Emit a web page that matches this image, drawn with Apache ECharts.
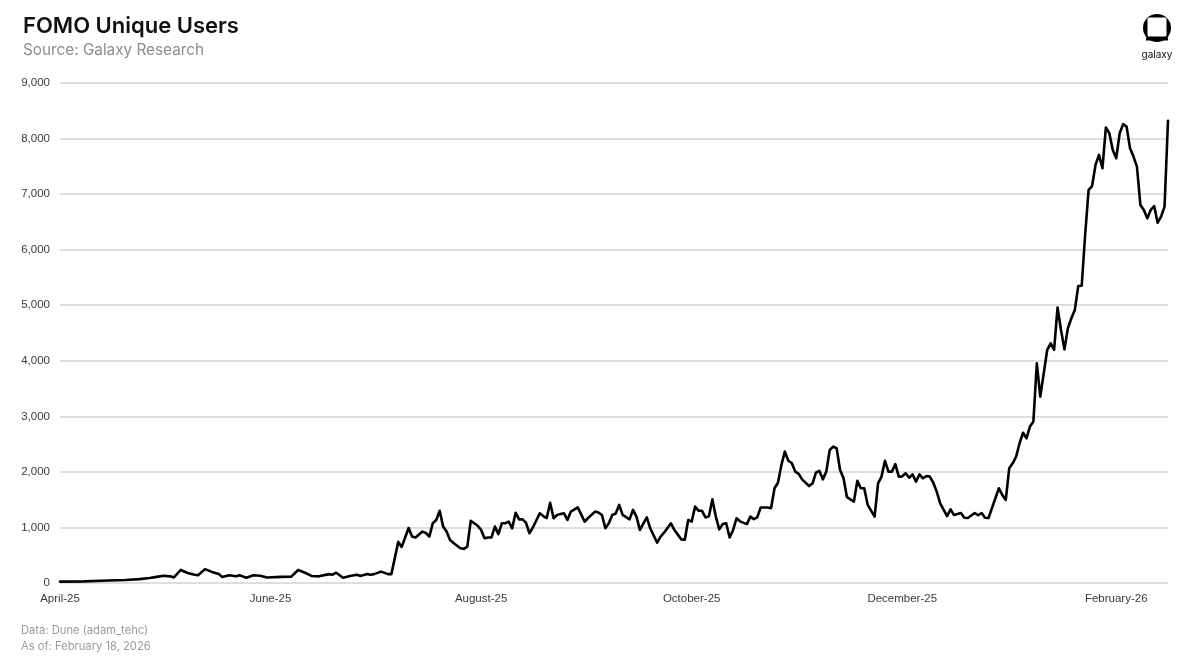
<!DOCTYPE html>
<html>
<head>
<meta charset="utf-8">
<script src="https://cdn.jsdelivr.net/npm/echarts@6/dist/echarts.min.js"></script>
<style>
html,body{margin:0;padding:0;background:#fff;}
#chart{width:1199px;height:670px;}
</style>
</head>
<body>
<div id="chart"></div>
<script>
// ---- Data ----
const dates = [
'2025-04-01','2025-04-08','2025-04-15','2025-04-20','2025-04-24','2025-04-27','2025-04-29','2025-05-01','2025-05-03','2025-05-04',
'2025-05-06','2025-05-08','2025-05-10','2025-05-11','2025-05-13','2025-05-15','2025-05-17','2025-05-18','2025-05-20','2025-05-22',
'2025-05-23','2025-05-25','2025-05-27','2025-05-29','2025-05-31','2025-06-04','2025-06-07','2025-06-09','2025-06-11','2025-06-13',
'2025-06-15','2025-06-18','2025-06-19','2025-06-20','2025-06-22','2025-06-24','2025-06-26','2025-06-27','2025-06-29','2025-06-30',
'2025-07-01','2025-07-03','2025-07-05','2025-07-06','2025-07-08','2025-07-09','2025-07-11','2025-07-12','2025-07-13','2025-07-15',
'2025-07-16','2025-07-17','2025-07-18','2025-07-19','2025-07-20','2025-07-21','2025-07-22','2025-07-23','2025-07-24','2025-07-26',
'2025-07-27','2025-07-28','2025-07-29','2025-07-30','2025-07-31','2025-08-01','2025-08-02','2025-08-03','2025-08-04','2025-08-05',
'2025-08-06','2025-08-07','2025-08-08','2025-08-09','2025-08-10','2025-08-11','2025-08-12','2025-08-13','2025-08-14','2025-08-15',
'2025-08-16','2025-08-18','2025-08-19','2025-08-20','2025-08-21','2025-08-22','2025-08-23','2025-08-24','2025-08-25','2025-08-26',
'2025-08-27','2025-08-29','2025-08-31','2025-09-01','2025-09-03','2025-09-04','2025-09-05','2025-09-06','2025-09-07','2025-09-08',
'2025-09-09','2025-09-10','2025-09-11','2025-09-13','2025-09-14','2025-09-15','2025-09-16','2025-09-18','2025-09-19','2025-09-21',
'2025-09-22','2025-09-23','2025-09-25','2025-09-26','2025-09-28','2025-09-29','2025-09-30','2025-10-01','2025-10-02','2025-10-03',
'2025-10-04','2025-10-05','2025-10-06','2025-10-07','2025-10-08','2025-10-09','2025-10-10','2025-10-11','2025-10-12','2025-10-13',
'2025-10-14','2025-10-15','2025-10-17','2025-10-18','2025-10-19','2025-10-20','2025-10-21','2025-10-23','2025-10-24','2025-10-25',
'2025-10-26','2025-10-27','2025-10-28','2025-10-29','2025-10-30','2025-10-31','2025-11-01','2025-11-02','2025-11-04','2025-11-05',
'2025-11-06','2025-11-07','2025-11-08','2025-11-09','2025-11-10','2025-11-11','2025-11-12','2025-11-13','2025-11-14','2025-11-15',
'2025-11-17','2025-11-18','2025-11-19','2025-11-20','2025-11-21','2025-11-23','2025-11-24','2025-11-25','2025-11-26','2025-11-27',
'2025-11-28','2025-11-29','2025-11-30','2025-12-01','2025-12-02','2025-12-03','2025-12-04','2025-12-05','2025-12-06','2025-12-07',
'2025-12-08','2025-12-09','2025-12-10','2025-12-11','2025-12-12','2025-12-14','2025-12-15','2025-12-16','2025-12-18','2025-12-19',
'2025-12-20','2025-12-22','2025-12-23','2025-12-24','2025-12-25','2025-12-26','2025-12-29','2025-12-30','2025-12-31','2026-01-01',
'2026-01-02','2026-01-03','2026-01-04','2026-01-05','2026-01-06','2026-01-07','2026-01-08','2026-01-09','2026-01-10','2026-01-12',
'2026-01-13','2026-01-14','2026-01-15','2026-01-16','2026-01-17','2026-01-18','2026-01-19','2026-01-20','2026-01-21','2026-01-22',
'2026-01-23','2026-01-24','2026-01-25','2026-01-26','2026-01-27','2026-01-28','2026-01-29','2026-01-30','2026-01-31','2026-02-01',
'2026-02-02','2026-02-03','2026-02-04','2026-02-05','2026-02-06','2026-02-07','2026-02-08','2026-02-09','2026-02-10','2026-02-11',
'2026-02-12','2026-02-13','2026-02-14','2026-02-15','2026-02-16'
];
const users = [
25,30,45,55,70,90,110,130,120,100,
235,180,150,140,250,200,160,110,140,120,
140,95,140,130,100,110,115,235,185,125,
120,160,150,185,95,125,150,125,160,150,
160,205,160,160,740,650,990,835,820,925,
900,835,1075,1135,1300,1015,925,775,720,625,
615,655,1120,1075,1030,955,805,820,820,1015,
880,1075,1075,1105,985,1265,1145,1145,1085,895,
1000,1255,1205,1170,1445,1165,1225,1240,1255,1135,
1285,1360,1105,1170,1285,1270,1225,985,1075,1225,
1250,1405,1225,1145,1315,1195,955,1180,985,725,
835,905,1075,955,785,780,1135,1105,1375,1300,
1300,1180,1200,1505,1195,965,1060,1075,820,955,
1165,1110,1060,1195,1150,1180,1360,1360,1345,1705,
1805,2125,2365,2200,2160,2005,1965,1865,1745,1790,
1985,2020,1865,2005,2395,2455,2425,2035,1885,1545,
1465,1840,1705,1705,1405,1195,1795,1915,2200,2005,
2005,2140,1915,1920,1975,1895,1955,1825,1955,1885,
1925,1915,1805,1645,1435,1205,1325,1225,1260,1175,
1170,1260,1220,1260,1175,1170,1705,1585,1495,2065,
2155,2275,2515,2705,2605,2815,2905,3955,3355,4195,
4315,4195,4960,4555,4205,4585,4765,4915,5345,5350,
6270,7075,7145,7525,7705,7465,8200,8095,7795,7645,
8095,8260,8215,7825,7675,7495,6805,6715,6565,6715,
6785,6485,6595,6775,8320
];
const xTickDates = ['2025-04-01','2025-06-01','2025-08-01','2025-10-01','2025-12-01','2026-02-01'];
const xTickLabels = ['April-25','June-25','August-25','October-25','December-25','February-26'];
const yMin = 0, yMax = 9000, yStep = 1000;

const titleText = 'FOMO Unique Users';
const subtitleText = 'Source: Galaxy Research';
const footerLines = ['Data: Dune (adam_tehc)', 'As of: February 18, 2026'];

// ---- Chart ----
const FONT = 'Inter, "Noto Sans", sans-serif';
const AXFONT = '"Liberation Sans", Arial, sans-serif';
const chart = echarts.init(document.getElementById('chart'), null, {renderer: 'canvas'});
const seriesData = dates.map((d, i) => [d, users[i]]);

function fmtDate(v) {
  const d = new Date(v);
  const s = d.getFullYear() + '-' + String(d.getMonth() + 1).padStart(2, '0') + '-' + String(d.getDate()).padStart(2, '0');
  const k = xTickDates.indexOf(s);
  return k >= 0 ? xTickLabels[k] : '';
}

chart.setOption({
  animation: false,
  backgroundColor: '#ffffff',
  title: {
    text: titleText,
    subtext: subtitleText,
    left: 18,
    top: 10,
    itemGap: 6,
    textStyle: {fontFamily: FONT, fontSize: 22, fontWeight: 600, color: '#111111'},
    subtextStyle: {fontFamily: FONT, fontSize: 15.3, fontWeight: 400, color: '#8c8c8c'}
  },
  grid: {left: 60, right: 31, top: 83, bottom: 87, containLabel: false},
  xAxis: {
    type: 'time',
    min: dates[0],
    max: dates[dates.length - 1],
    minInterval: 28 * 86400000,
    maxInterval: 31 * 86400000,
    axisLine: {show: false},
    axisTick: {show: false},
    splitLine: {show: false},
    axisLabel: {
      show: true,
      showMinLabel: true,
      hideOverlap: false,
      margin: 10,
      fontFamily: AXFONT,
      fontSize: 11.5,
      color: '#3a3a3a',
      formatter: fmtDate
    }
  },
  yAxis: {
    type: 'value',
    min: yMin,
    max: yMax,
    interval: yStep,
    axisLine: {show: false},
    axisTick: {show: false},
    splitLine: {show: true, lineStyle: {color: '#d3d3d3', width: 1.5}},
    axisLabel: {
      margin: 10,
      fontFamily: AXFONT,
      fontSize: 11.5,
      color: '#3a3a3a',
      formatter: v => v.toLocaleString('en-US')
    }
  },
  series: [{
    type: 'line',
    data: seriesData,
    showSymbol: false,
    symbol: 'none',
    lineStyle: {color: '#000000', width: 2.6, join: 'round', cap: 'round'},
    z: 3
  }],
  graphic: [
    {type: 'text', left: 21, top: 625, style: {text: footerLines[0], fontFamily: FONT, fontSize: 11.2, fill: '#9a9a9a'}},
    {type: 'text', left: 21, top: 641, style: {text: footerLines[1], fontFamily: FONT, fontSize: 11.2, fill: '#9a9a9a'}},
    {type: 'circle', shape: {cx: 1157, cy: 28, r: 14}, style: {fill: '#000000'}},
    {type: 'rect', shape: {x: 1147.5, y: 17.5, width: 19, height: 19, r: 1.5}, style: {fill: '#ffffff'}},
    {type: 'rect', shape: {x: 1146, y: 37.5, width: 22, height: 3}, style: {fill: '#000000'}},
    {type: 'text', x: 1157, y: 55, style: {text: 'galaxy', fontFamily: FONT, fontSize: 10, fill: '#111111', align: 'center', verticalAlign: 'middle'}}
  ]
});
</script>
</body>
</html>
